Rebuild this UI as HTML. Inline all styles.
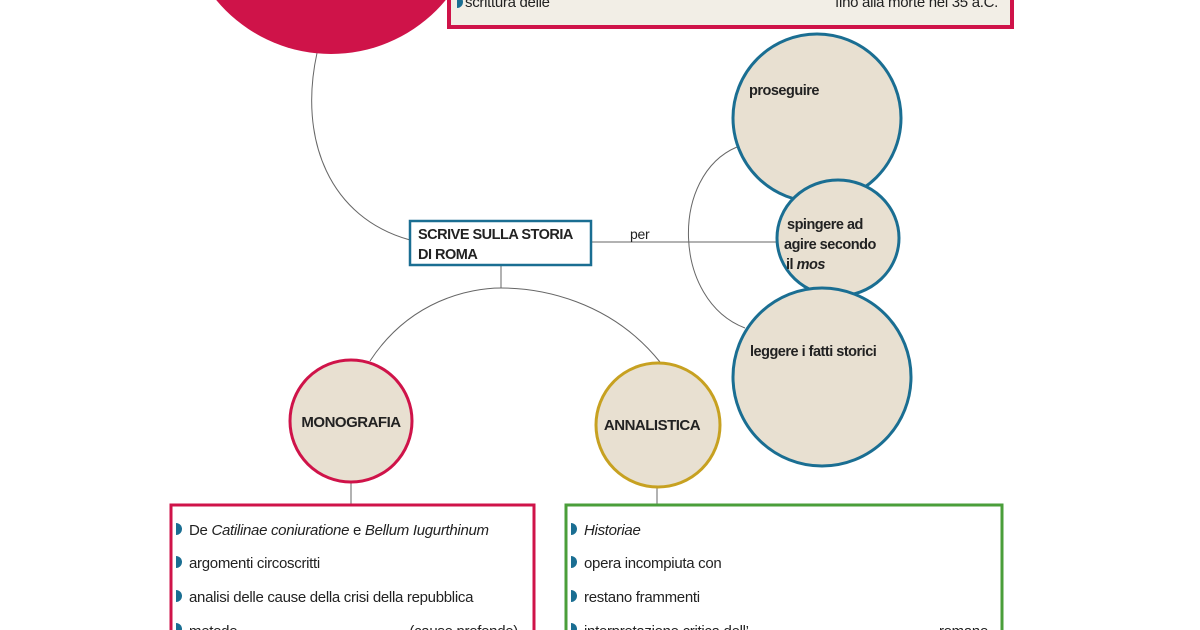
<!DOCTYPE html>
<html><head><meta charset="utf-8"><style>
html,body{margin:0;padding:0;background:#fff;width:1200px;height:630px;overflow:hidden}
svg{display:block}
text{font-family:"Liberation Sans",sans-serif;fill:#222;letter-spacing:-0.3px}
.b{font-weight:bold;letter-spacing:-0.5px}
</style></head><body>
<svg width="1200" height="630" viewBox="0 0 1200 630">
<g fill="none" stroke="#666" stroke-width="1">
<path d="M317,53 C298,140 330,218 410,240"/>
<line x1="592" y1="242" x2="778" y2="242"/>
<path d="M737,147 C670,175 672,300 745,328"/>
<line x1="501" y1="265" x2="501" y2="288"/>
<path d="M370,361 C410,300 470,288 501,288 C540,288 610,300 660,362"/>
<line x1="351" y1="481" x2="351" y2="505"/>
<line x1="657" y1="486" x2="657" y2="505"/>
</g>
<circle cx="331" cy="-95" r="149" fill="#cf1349"/>
<rect x="449" y="-10" width="563" height="37" fill="#f2eee6" stroke="#cf1349" stroke-width="4"/>
<path d="M457,-4 a6,6 0 0 1 0,12 z" fill="#1a6e92"/>
<text x="465" y="7" font-size="15">scrittura delle</text>
<text x="998" y="7" font-size="15" text-anchor="end">fino alla morte nel 35 a.C.</text>
<rect x="410" y="221" width="181" height="44" fill="#fff" stroke="#1a6e92" stroke-width="2.5"/>
<text x="418" y="239" font-size="14.5" class="b">SCRIVE SULLA STORIA</text>
<text x="418" y="259" font-size="14.5" class="b">DI ROMA</text>
<text x="630" y="239" font-size="14">per</text>
<g fill="#e8e0d1" stroke="#1a6e92" stroke-width="3">
<circle cx="817" cy="118" r="84"/>
<ellipse cx="838" cy="238" rx="61" ry="58"/>
<circle cx="822" cy="377" r="89"/>
</g>
<text x="749" y="95" font-size="14.5" class="b">proseguire</text>
<text x="787" y="229" font-size="14.5" class="b">spingere ad</text>
<text x="784" y="249" font-size="14.5" class="b">agire secondo</text>
<text x="786" y="269" font-size="14.5" class="b">il <tspan font-style="italic">mos</tspan></text>
<text x="750" y="356" font-size="14.5" class="b">leggere i fatti storici</text>
<circle cx="351" cy="421" r="61" fill="#e8e0d1" stroke="#cf1349" stroke-width="3"/>
<circle cx="658" cy="425" r="62" fill="#e8e0d1" stroke="#c7a121" stroke-width="3"/>
<text x="351" y="427" font-size="15" class="b" text-anchor="middle">MONOGRAFIA</text>
<text x="652" y="430" font-size="15" class="b" text-anchor="middle">ANNALISTICA</text>
<rect x="171" y="505" width="363" height="140" fill="#fff" stroke="#cf1349" stroke-width="3"/>
<rect x="566" y="505" width="436" height="140" fill="#fff" stroke="#4a9e3a" stroke-width="3"/>
<g fill="#1a6e92">
<path d="M176,523 a6,6 0 0 1 0,12 z"/>
<path d="M176,556 a6,6 0 0 1 0,12 z"/>
<path d="M176,590 a6,6 0 0 1 0,12 z"/>
<path d="M176,623 a6,6 0 0 1 0,12 z"/>
<path d="M571,523 a6,6 0 0 1 0,12 z"/>
<path d="M571,556 a6,6 0 0 1 0,12 z"/>
<path d="M571,590 a6,6 0 0 1 0,12 z"/>
<path d="M571,623 a6,6 0 0 1 0,12 z"/>
</g>
<g font-size="15">
<text x="189" y="535">De <tspan font-style="italic">Catilinae coniuratione</tspan> e <tspan font-style="italic">Bellum Iugurthinum</tspan></text>
<text x="189" y="568">argomenti circoscritti</text>
<text x="189" y="602">analisi delle cause della crisi della repubblica</text>
<text x="189" y="636">metodo</text>
<text x="518" y="636" text-anchor="end">(cause profonde)</text>
<text x="584" y="535" font-style="italic">Historiae</text>
<text x="584" y="568">opera incompiuta con</text>
<text x="584" y="602">restano frammenti</text>
<text x="584" y="636">interpretazione critica dell’</text>
<text x="988" y="636" text-anchor="end">romano</text>
</g>
</svg>
</body></html>
